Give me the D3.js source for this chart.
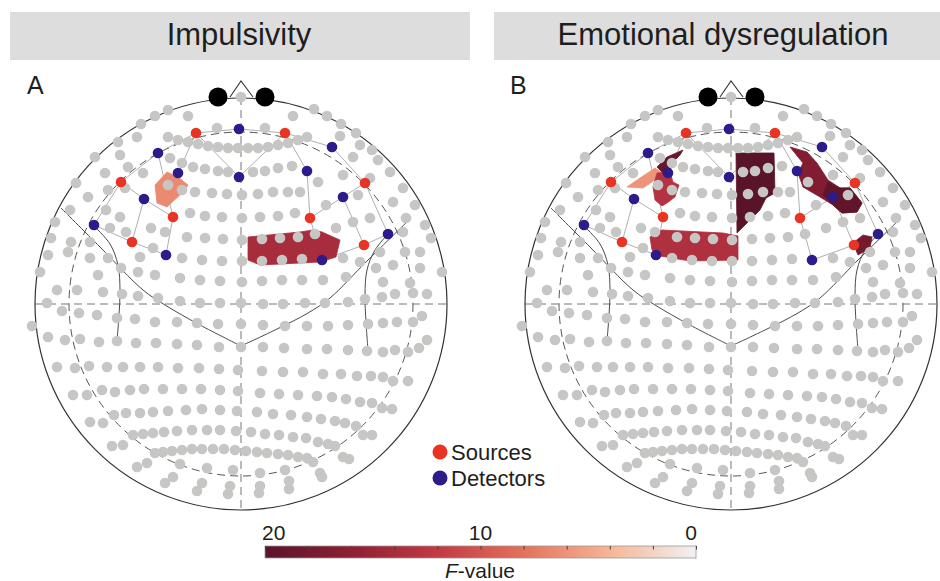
<!DOCTYPE html>
<html><head><meta charset="utf-8">
<script src="https://cdn.jsdelivr.net/npm/d3@7"></script>
<style>body{margin:0;background:#fff;} svg{display:block;font-family:"Liberation Sans",Arial,Helvetica,sans-serif;}</style>
</head><body><svg id="chart" width="940" height="581"></svg>
<script>
// ---------------- data ----------------
const panelTitles = ["Impulsivity", "Emotional dysregulation"];
const panelLetters = ["A", "B"];
const legendItems = ["Sources", "Detectors"];
const fTickValues = [20, 18, 16, 14, 12, 10, 8, 6, 4, 2, 0];
const fTickLabels = [20, 10, 0];
const fColorStops = [20, 16, 12, 8, 4, 0];
const fColors = ["#5a1429", "#8e1f35", "#c23a43", "#e3725b", "#f6b596", "#f1f1f1"];

// channel midpoints (grey), in head coordinates of panel A
const greyDots = [
 [241,97],[217,128],[265,128],[168,110],[155,116],[141,124],[314,109],[327,116],[341,124],[188,116],[293,116],
 [168,137],[178,140],[188,142],[198,144],[208,146],[218,147],[228,148],[238,148],[248,148],[258,148],[268,147],[278,145],[288,143],[298,140],[307,137],
 [170,158],[182,163],[193,167],[205,169],[218,171],[228,172],[253,172],[265,171],[278,168],[292,166],
 [168,185],[182,190],[195,192],[212,193],[227,194],[242,195],[258,194],[273,192],[288,192],[300,192],
 [190,213],[205,216],[222,217],[242,218],[260,217],[278,216],[295,213],
 [187,237],[205,238],[223,239],[242,240],[262,239],[280,238],[298,237],[315,234],
 [182,258],[202,260],[222,261],[242,261],[262,261],[282,260],[302,259],
 [180,278],[200,280],[220,281],[242,282],[262,281],[282,280],[302,280],
 [118,142],[137,137],[120,155],[95,157],[105,173],[128,167],[143,173],[76,183],[88,197],[106,210],[120,217],
 [110,228],[151,228],[165,232],[51,238],[71,242],[90,242],[153,248],[48,255],[68,252],[90,258],[108,258],
 [121,268],[138,272],[155,275],[40,272],[108,190],[125,188],[70,210],[55,222],[126,232],[140,257],[98,275],
 [340,136],[356,133],[372,150],[360,145],[353,157],[378,160],[390,172],[343,175],[370,178],[403,188],[318,182],[358,195],[393,202],[326,205],
 [415,205],[425,225],[353,222],[370,218],[406,218],[336,228],[403,232],[380,252],[405,252],[420,252],[343,258],[376,268],[393,265],
 [420,268],[323,280],[346,277],[383,282],[410,283],[431,238],[442,272],[360,262],
 [57,290],[77,290],[103,292],[122,294],[138,296],[158,298],[180,301],[200,303],[220,303],[241,303],[263,304],
 [283,304],[305,303],[325,303],[348,302],[365,299],[382,297],[395,294],[413,293],[427,294],[47,303],
 [32,326],[62,311],[79,313],[97,315],[117,318],[135,319],[155,322],[177,322],[197,323],[218,324],[241,324],
 [263,325],[285,326],[307,326],[328,326],[348,325],[368,324],[383,323],[397,322],[413,322],[422,316],
 [48,337],[65,340],[80,339],[99,342],[117,341],[136,343],[156,343],[177,344],[197,345],[219,347],[241,347],
 [263,347],[284,348],[307,349],[327,349],[348,350],[367,351],[383,352],[395,350],[408,352],[419,348],[427,340],
 [57,367],[75,368],[89,366],[107,367],[123,367],[140,367],[158,367],[178,368],[199,368],[219,369],[238,370],
 [262,371],[283,372],[303,372],[323,374],[341,374],[357,376],[371,376],[383,377],[393,381],[408,381],
 [73,395],[87,395],[102,390],[115,392],[130,390],[144,389],[163,389],[182,389],[201,389],[220,390],[238,391],
 [260,393],[279,394],[298,395],[317,396],[332,397],[346,399],[360,402],[372,403],[382,408],[392,409],
 [90,422],[103,423],[114,415],[126,413],[140,413],[153,412],[168,411],[186,410],[202,409],[220,410],[237,411],
 [257,412],[273,414],[291,415],[307,417],[321,419],[335,421],[345,423],[356,426],[363,435],[372,435],
 [112,446],[123,445],[133,435],[143,434],[153,433],[164,432],[177,431],[192,430],[207,430],[220,430],[236,431],
 [251,432],[265,434],[279,435],[293,437],[306,438],[318,442],[328,444],[335,446],[343,457],[349,459],
 [137,467],[147,463],[155,453],[163,452],[172,451],[182,450],[192,449],[202,449],[213,449],[224,449],[235,450],
 [246,451],[257,452],[267,453],[278,454],[288,455],[298,457],[307,458],[313,462],
 [165,483],[173,477],[180,464],[197,491],[202,483],[207,468],[228,494],[230,486],[233,470],[259,493],[260,486],
 [260,473],[285,470],[289,489],[289,481],[320,473],[322,477]
];
const sources = [[196,133],[285,133],[121,182],[365,183],[173,217],[310,218],[132,242],[364,245]];
const detectors = [[239,129],[158,153],[332,147],[178,173],[239,177],[307,171],[144,199],[343,197],[94,225],[388,234],[166,255],[322,260]];
const channels = [[0,0],[0,1],[0,3],[0,4],[1,0],[1,2],[1,4],[1,5],[2,1],[2,6],[2,8],[3,2],[3,7],[3,9],
 [4,1],[4,6],[4,10],[5,5],[5,7],[5,11],[6,8],[6,6],[6,10],[7,9],[7,7],[7,11]];
const fiducials = [[218,97],[265,97]];
const noseOutline = [[230,97],[241,81],[253,97]];
const outlineLeft = [[61,208],[100,247],[143,290],[165,305],[200,325],[241,346]];
const outlineRight = [[411,218],[367,261],[330,298],[308,313],[275,330],[241,346]];
const arcLeft = [[94,226],[110,244],[118,265],[120,290],[119,315],[117,341]];
const arcRight = [[388,234],[375,250],[367,270],[365,295],[366,322],[368,350]];

const patchesA = [
 {f:6.5, pts:[[155,185],[167,172],[178,177],[188,185],[183,192],[167,207],[157,203]]},
 {f:14, pts:[[248,237],[300,232],[313,230],[322,232],[340,240],[336,257],[320,262],[260,265],[248,260]]}
];
const patchesB = [
 {f:6, pts:[[137,187],[150,178],[165,168],[172,173],[162,182],[153,188]]},
 {f:13, pts:[[167,173],[180,172],[183,182],[189,185],[185,197],[177,203],[172,206],[165,200],[163,187]]},
 {f:19, pts:[[167,167],[177,157],[193,150],[190,155],[182,163],[180,172],[173,173]]},
 {f:20, pts:[[246,153],[284,153],[285,193],[276,198],[270,210],[258,222],[247,233]]},
 {f:13.5, pts:[[160,237],[172,230],[233,233],[248,236],[248,260],[200,261],[170,256],[162,250]]},
 {f:17, pts:[[300,147],[317,152],[327,163],[338,180],[350,188],[360,188],[372,203],[367,212],[352,213],[343,205],[330,197],[313,187],[308,173],[313,163],[308,157]]},
 {f:19.5, pts:[[338,182],[350,188],[360,188],[372,203],[367,212],[352,213],[343,205],[333,195]]},
 {f:18, pts:[[363,243],[373,235],[382,237],[380,248],[368,255]]}
];
const panelPatches = [patchesA, patchesB];
const panelCenters = [241, 731];

// ---------------- drawing ----------------
const svg = d3.select("#chart");
svg.append("rect").attr("width",940).attr("height",581).attr("fill","#fff");
const color = d3.scaleLinear().domain(fColorStops).range(fColors).interpolate(d3.interpolateRgb);

// title bars
const bars = [[10,460],[494,446]];
const titleX = [239, 723];
bars.forEach((b,i)=>{
  svg.append("rect").attr("x",b[0]).attr("y",12).attr("width",b[1]).attr("height",48).attr("fill","#dddddd");
  svg.append("text").attr("x",titleX[i]).attr("y",45).attr("text-anchor","middle")
    .attr("font-size",31).attr("fill","#1e1e1e").text(panelTitles[i]);
});
const letterX = [27, 510];
panelLetters.forEach((l,i)=>{
  svg.append("text").attr("x",letterX[i]).attr("y",94).attr("font-size",25).attr("fill","#1e1e1e").text(l);
});

function drawPanel(i){
  const cx = panelCenters[i];
  const x = d3.scaleLinear().domain([35,447]).range([cx-206, cx+206]);
  const y = d3.scaleLinear().domain([98,510]).range([98,510]);
  const k = x(1) - x(0);
  const g = svg.append("g");
  const line = d3.line().x(d=>x(d[0])).y(d=>y(d[1]));
  const closed = d3.line().x(d=>x(d[0])).y(d=>y(d[1])).curve(d3.curveLinearClosed);
  const curve = d3.line().x(d=>x(d[0])).y(d=>y(d[1])).curve(d3.curveCatmullRom);

  // dashed guides
  g.append("circle").attr("cx",x(241)).attr("cy",y(304)).attr("r",172*k)
    .attr("fill","none").attr("stroke","#555").attr("stroke-width",1).attr("stroke-dasharray","8,5");
  g.append("line").attr("x1",x(35)).attr("x2",x(447)).attr("y1",y(304)).attr("y2",y(304))
    .attr("stroke","#777").attr("stroke-width",1).attr("stroke-dasharray","8,5");
  g.append("line").attr("x1",x(241)).attr("x2",x(241)).attr("y1",y(97)).attr("y2",y(510))
    .attr("stroke","#777").attr("stroke-width",1).attr("stroke-dasharray","8,5");
  // head outline
  g.append("circle").attr("cx",x(241)).attr("cy",y(304)).attr("r",206*k)
    .attr("fill","none").attr("stroke","#333").attr("stroke-width",1.2);
  [outlineLeft, outlineRight, arcLeft, arcRight].forEach(p=>{
    g.append("path").attr("d",curve(p)).attr("fill","none").attr("stroke","#4a4a4a").attr("stroke-width",1);
  });
  g.append("path").attr("d",line(noseOutline)).attr("fill","none").attr("stroke","#333").attr("stroke-width",1.1);

  // channel lines
  g.selectAll(".ch").data(channels).join("line")
    .attr("x1",d=>x(sources[d[0]][0])).attr("y1",d=>y(sources[d[0]][1]))
    .attr("x2",d=>x(detectors[d[1]][0])).attr("y2",d=>y(detectors[d[1]][1]))
    .attr("stroke","#9a9a9a").attr("stroke-width",0.8);

  // F-value patches
  g.selectAll(".patch").data(panelPatches[i]).join("path")
    .attr("d",d=>closed(d.pts))
    .attr("fill",d=>color(d.f)).attr("stroke",d=>color(d.f)).attr("stroke-width",0.8);

  // grey channel dots
  g.selectAll(".gd").data(greyDots).join("circle")
    .attr("cx",d=>x(d[0])).attr("cy",d=>y(d[1])).attr("r",5.3).attr("fill","#c6c6c4");

  // optodes
  g.selectAll(".src").data(sources).join("circle")
    .attr("cx",d=>x(d[0])).attr("cy",d=>y(d[1])).attr("r",5.3).attr("fill","#e93423");
  g.selectAll(".det").data(detectors).join("circle")
    .attr("cx",d=>x(d[0])).attr("cy",d=>y(d[1])).attr("r",5.3).attr("fill","#2d1b8c");
  g.selectAll(".fid").data(fiducials).join("circle")
    .attr("cx",d=>x(d[0])).attr("cy",d=>y(d[1])).attr("r",9.5).attr("fill","#000");
}
drawPanel(0);
drawPanel(1);

// legend
const legendColors = ["#e93423", "#2d1b8c"];
legendItems.forEach((t,i)=>{
  const ly = 452 + i*26;
  svg.append("circle").attr("cx",440).attr("cy",ly).attr("r",7.5).attr("fill",legendColors[i]);
  svg.append("text").attr("x",451).attr("y",ly+8).attr("font-size",22).attr("fill","#1e1e1e").text(t);
});

// colour bar
const fx = d3.scaleLinear().domain([20,0]).range([265,696]);
const defs = svg.append("defs");
const grad = defs.append("linearGradient").attr("id","fgrad").attr("x1","0%").attr("x2","100%").attr("y1","0%").attr("y2","0%");
fColorStops.forEach((f,j)=>{
  grad.append("stop").attr("offset",((fx(f)-265)/(696-265)*100)+"%").attr("stop-color",fColors[j]);
});
svg.append("rect").attr("x",265).attr("y",546).attr("width",431).attr("height",12)
  .attr("fill","url(#fgrad)").attr("stroke","#9a9a9a").attr("stroke-width",0.8);
const ax = svg.append("g").attr("transform","translate(0,546)")
  .call(d3.axisTop(fx).tickValues(fTickValues).tickSizeInner(-3.5).tickSizeOuter(0).tickFormat(""));
ax.select(".domain").remove();
ax.selectAll("line").attr("stroke","#444").attr("stroke-width",1);
const anchors = ["start","middle","end"];
const labelShift = [-3, 0, 1];
fTickLabels.forEach((v,j)=>{
  svg.append("text").attr("x",fx(v)+labelShift[j]).attr("y",540).attr("text-anchor",anchors[j])
    .attr("font-size",21).attr("fill","#1e1e1e").text(v);
});
const fl = svg.append("text").attr("x",480).attr("y",578).attr("text-anchor","middle").attr("font-size",21).attr("fill","#1e1e1e");
fl.append("tspan").attr("font-style","italic").text("F");
fl.append("tspan").text("-value");
</script>
</body></html>
